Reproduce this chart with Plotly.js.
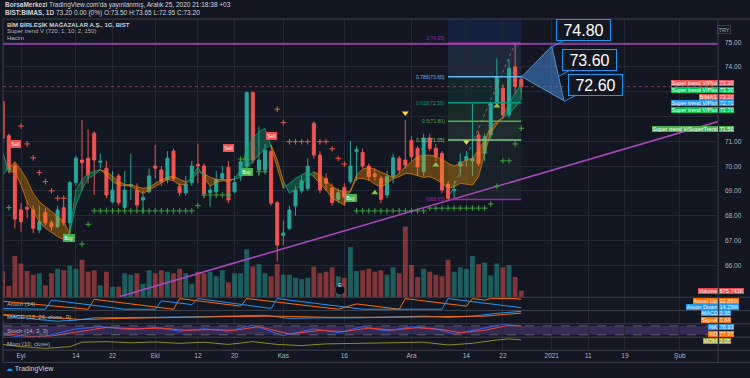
<!DOCTYPE html>
<html>
<head>
<meta charset="utf-8">
<script src="https://cdn.plot.ly/plotly-3.0.1.min.js"></script>
<style>
html,body{margin:0;padding:0;background:#131722;overflow:hidden;}
#chart{width:750px;height:378px;}
</style>
</head>
<body>
<div id="chart"></div>
<script>
// ================= DATA =================
const dates = ["2020-08-27","2020-08-28","2020-08-31",
"2020-09-01","2020-09-02","2020-09-03","2020-09-04","2020-09-07","2020-09-08","2020-09-09","2020-09-10","2020-09-11","2020-09-14","2020-09-15","2020-09-16","2020-09-17","2020-09-18","2020-09-21","2020-09-22","2020-09-23","2020-09-24","2020-09-25","2020-09-28","2020-09-29","2020-09-30",
"2020-10-01","2020-10-02","2020-10-05","2020-10-06","2020-10-07","2020-10-08","2020-10-09","2020-10-12","2020-10-13","2020-10-14","2020-10-15","2020-10-16","2020-10-19","2020-10-20","2020-10-21","2020-10-22","2020-10-23","2020-10-26","2020-10-27","2020-10-28","2020-10-30",
"2020-11-02","2020-11-03","2020-11-04","2020-11-05","2020-11-06","2020-11-09","2020-11-10","2020-11-11","2020-11-12","2020-11-13","2020-11-16","2020-11-17","2020-11-18","2020-11-19","2020-11-20","2020-11-23","2020-11-24","2020-11-25","2020-11-26","2020-11-27","2020-11-30",
"2020-12-01","2020-12-02","2020-12-03","2020-12-04","2020-12-07","2020-12-08","2020-12-09","2020-12-10","2020-12-11","2020-12-14","2020-12-15","2020-12-16","2020-12-17","2020-12-18","2020-12-21","2020-12-22","2020-12-23","2020-12-24","2020-12-25"];
const firstBar = -3; // bar number of the first date (Sep 1 = bar 0)

const openP = [72.6,71.22,70.01,68.23,68.33,68.23,67.42,68.12,67.71,67.55,68.32,67.71,69.33,70.24,70.31,71.32,70.15,69.91,68.56,69.6,68.33,69.2,69.03,68.63,68.96,70.0,69.84,69.44,70.6,69.17,68.92,69.33,70.07,70.0,68.92,68.96,69.5,69.95,68.96,69.6,69.97,72.96,69.84,69.84,70.58,68.52,67.2,67.49,68.39,69.0,69.1,71.72,70.44,69.5,69.1,68.66,69.14,69.37,70.58,70.54,70.0,69.68,69.5,68.83,69.57,70.31,70.24,71.02,70.71,69.77,71.12,70.71,70.51,69.27,69.0,70.0,70.24,70.2,71.25,70.51,71.25,72.53,73.13,72.06,74.0,73.5];
const highP = [72.8,71.3,70.1,68.5,68.6,68.4,68.4,68.3,67.8,68.4,68.6,69.4,70.4,71.85,71.48,71.4,70.5,70.2,69.8,69.7,69.8,70.5,69.3,69.0,69.9,70.85,70.0,70.6,70.7,69.3,69.6,70.2,70.9,70.1,69.2,69.8,70.0,70.2,69.6,70.3,73.0,73.0,71.6,70.9,70.8,68.6,67.8,68.4,69.2,69.6,70.3,71.8,70.6,69.7,69.3,69.1,69.3,71.0,70.8,70.7,70.1,69.9,69.6,69.8,70.5,70.4,71.85,71.2,70.8,71.3,71.3,70.9,70.6,69.4,69.4,70.5,70.6,72.5,71.4,71.3,72.6,74.34,73.3,74.3,74.95,73.65];
const lowP = [70.9,69.7,67.49,67.35,67.9,67.3,67.3,67.6,67.4,67.5,67.6,67.2,69.2,69.03,69.3,68.83,69.9,68.7,68.5,68.4,68.2,68.63,68.3,68.09,68.9,69.5,69.2,69.3,69.4,68.8,68.8,69.2,69.3,68.7,68.36,68.9,69.4,68.5,68.9,69.4,69.6,70.1,69.6,69.7,68.4,66.14,66.8,67.4,68.0,68.9,69.0,70.3,68.9,69.0,68.4,68.5,68.4,69.3,69.4,69.9,69.4,69.4,68.5,68.7,69.3,69.7,69.9,70.2,69.6,69.6,70.6,70.2,68.9,68.65,68.7,69.57,70.0,69.6,70.0,70.2,71.1,72.4,71.9,71.95,72.9,72.95];
const closeP = [71.12,69.84,67.86,67.75,68.26,67.49,67.75,67.71,67.55,68.23,67.71,69.33,70.31,70.13,69.64,70.24,70.2,68.83,69.03,68.52,69.03,69.25,68.43,68.74,69.6,69.91,69.37,70.31,69.5,68.92,69.26,70.0,70.0,68.87,69.03,69.46,69.7,68.63,69.33,70.17,72.96,70.24,70.24,70.64,68.5,66.81,67.3,68.23,69.03,69.4,69.99,70.44,69.03,69.3,68.52,68.92,68.74,70.0,70.67,70.0,69.57,69.57,68.66,69.57,70.33,69.84,70.04,70.38,69.97,71.12,70.71,70.38,69.03,68.7,69.05,70.17,70.38,70.3,70.11,71.18,72.53,73.6,72.06,73.94,73.2,73.2];
// volume in millions of shares
const volumeM = [3.5,1.5,5.5,4.5,3.5,3.0,3.2,1.6,3.2,3.8,3.6,4.2,3.8,5.0,3.4,3.6,1.6,3.4,1.4,1.4,3.2,3.0,3.2,1.8,3.6,3.2,3.6,3.4,3.2,3.8,3.2,1.8,3.4,3.2,3.4,2.8,3.6,2.0,3.2,3.2,6.4,4.1,4.4,3.2,2.8,4.4,3.0,3.0,2.6,2.4,2.6,4.1,3.2,3.4,4.0,2.8,2.6,6.7,3.5,3.6,3.8,3.4,3.6,3.0,4.0,3.2,9.4,4.3,2.7,3.8,3.4,3.0,2.8,5.0,3.4,4.0,3.8,5.5,4.4,4.6,2.9,4.5,4.0,4.3,2.7,0.876];
// Super trend V band lines (fast / slow)
const stFast = [70.58,69.76,69.77,69.23,68.56,68.16,67.75,67.49,67.31,67.15,67.04,67.35,69.03,69.44,69.7,69.77,69.87,69.6,69.37,69.23,69.22,69.19,69.03,68.9,69.03,69.17,69.33,69.46,69.41,69.23,69.27,69.54,69.95,69.54,69.19,69.33,69.41,69.37,69.5,69.84,70.71,71.12,71.38,71.52,70.78,69.91,69.1,69.3,69.5,69.64,69.77,69.57,69.3,69.03,68.7,68.56,68.43,69.03,69.5,69.5,69.44,69.27,69.14,69.3,69.49,69.57,69.7,69.68,69.6,69.54,69.57,69.46,69.3,69.1,69.17,69.3,69.27,69.23,69.57,70.51,71.32,71.69,71.99,72.53,72.93,73.30];
const stSlow = [69.64,69.92,70.17,69.84,69.44,68.9,68.56,68.36,68.16,67.98,67.75,67.29,68.43,69.03,69.5,69.64,69.84,69.77,69.6,69.37,69.26,69.23,69.17,69.1,69.14,69.3,69.44,69.54,69.6,69.46,69.37,69.44,69.77,69.7,69.54,69.46,69.46,69.44,69.46,69.54,69.91,70.17,70.44,70.71,70.85,70.24,69.4,68.9,69.03,69.23,69.57,69.77,69.64,69.44,69.17,69.03,68.96,68.96,69.64,69.87,69.95,69.87,69.77,69.64,69.54,69.7,69.97,70.17,70.38,70.44,70.44,70.38,70.27,70.11,70.0,70.11,70.24,70.31,70.65,71.05,71.58,71.79,71.95,72.1,72.37,72.70];
// SuperTrend stop crosses
const stopDownX = [0,1,2,3,4,5,6,7,42,43,44,45,46,47,49,50,51,52,53];
const stopDownY = [71.61,70.89,70.33,69.73,69.37,69.0,68.7,68.7,72.29,71.75,70.98,70.98,70.98,70.98,70.98,70.98,70.69,70.31,70.08];
const stopUpX = [-2,10,11,12,13,14,15,16,17,18,19,20,21,22,23,24,25,26,27,28,29,30,31,32,33,34,36,37,39,40,55,56,57,58,59,60,61,62,63,64,65,66,67,68,69,70,71,72,73,74,75,76,77,78,79,80,81,82];
const stopUpY = [68.32,66.85,67.65,68.19,68.19,68.19,68.19,68.19,68.19,68.19,68.19,68.19,68.19,68.19,68.19,68.19,68.19,68.19,68.19,68.19,68.4,68.83,68.83,68.83,68.83,68.83,70.28,70.28,69.77,69.77,68.19,68.19,68.19,68.19,68.19,68.19,68.19,68.19,68.19,68.19,68.19,68.19,68.3,68.3,68.3,68.3,68.3,68.3,68.3,68.3,68.3,68.3,68.47,69.19,70.21,70.21,70.89,71.52];
const triUpX = [58,68,78], triUpY = [68.92,70.04,72.42];
const triDownX = [63,73], triDownY = [72.14,70.98];
const sigX = [-0.9,7.9,34,37,41.1,54.1];
const sigY = [70.89,67.08,70.71,69.74,71.22,68.73];
const sigText = ["Sell","Buy","Sell","Buy","Sell","Buy"];
// Fibonacci retracement
const fibBars = [70, 82];
const fibNames = ["1","0.786","0.618","0.5","0.382","0"];
const fibPrices = [74.95,73.60,72.55,71.80,71.05,68.65];
// drawings
const trendX = [16.2,114.3], trendY = [64.74,71.79];
const hLinePrice = 74.92;
const lastPrice = 73.20;
const calloutX = [87,88,89], calloutY = [74.80,73.60,72.60], calloutText = ["74.80","73.60","72.60"];
const wedgeX = [82.1,87,89], wedgeY = [73.6,74.84,72.63];
const earningsBar = 52.3;
// indicators (vertices)
const aroonUpX = [-3,11,12,25,26,36,37,52,55,62,63,73,74,76,77,81,82];
const aroonUpV = [75,0,93,0,100,29,100,0,50,0,100,29,100,86,100,100,92.86];
const aroonDnX = [-3,4,5,17,22,23,28,29,41,42,56,69,70,82];
const aroonDnV = [7,0,86,0,0,79,43,100,7,100,0,0,100,14.29];
const macdX = [-3,2,6,9,12,16,22,30,37,40,44,48,55,62,66,70,74,78,82];
const macdV = [0.3,-0.4,-0.8,-0.6,-0.2,-0.2,-0.1,0.0,0.2,0.25,-0.3,-0.2,-0.2,0.0,0.1,-0.1,0.1,0.6,0.95];
const signalX = [-3,5,10,16,25,35,42,50,60,70,76,82];
const signalV = [0.4,-0.2,-0.5,-0.3,-0.1,0.05,0.1,-0.1,-0.1,0.0,0.1,0.64];
const stochKX = [-3,0,4,9,13,18,22,26,30,34,38,43,48,52,56,60,64,68,71,75,79,82];
const stochKV = [20,5,10,60,75,55,70,45,60,45,85,15,60,35,75,45,75,60,25,55,90,78.93];
const stochDX = [-3,1,5,10,14,19,23,27,31,35,39,44,49,53,57,61,65,69,72,76,80,82];
const stochDV = [30,10,12,45,70,60,65,50,55,50,75,25,50,42,65,52,68,55,35,50,85,77.97];
const momX = [-3,0,4,8,10,14,18,22,26,30,34,38,42,46,50,54,58,62,66,70,74,78,80,82];
const momV = [-1,-3,-4.5,-3,1,1.5,0.5,1.2,0,1,-1,1.5,-1,-2,-0.5,0,0.5,1,1,-1.5,0,3,4,3.05];
// axis ticks
const tickPos = [0,9,15,22,29,35,43,53,64,73,79,87,93,99,108];
const tickText = ["Eyl","14","22","Eki","12","20","Kas","16","Ara","14","22","2021","11","19","Şub"];
const priceTicks = [66,67,68,69,70,71,72,73,74,75];
const priceTickShown = [true,true,true,true,true,true,false,false,true,true];

// ================= LAYOUT HELPERS =================
const L=3, R=718, T=19, B=350;
const px = x => (x-L)/(R-L);
const py = y => (B-y)/(B-T);
const FONT = "Liberation Sans, Arial, sans-serif";
const bars = dates.map((d,k)=>k+firstBar);
const UP='#26a69a', DN='#ef5350';

const traces = [];

// volume (base axis y)
traces.push({type:'bar', x:bars, y:volumeM, xaxis:'x', yaxis:'y', width:0.8,
  marker:{color:closeP.map((c,k)=> c>=openP[k] ? 'rgba(38,166,154,0.5)' : 'rgba(239,83,80,0.5)')},
  hoverinfo:'skip'});

// supertrend band polygons
(function(){
  let cur=null; const segs=[];
  for(let k=0;k<bars.length-1;k++){
    const up = (stFast[k]+stFast[k+1]) >= (stSlow[k]+stSlow[k+1]);
    if(!cur || cur.up!==up){cur={up:up,ks:[k]}; segs.push(cur);}
    cur.ks.push(k+1);
  }
  segs.forEach(s=>{
    const xx = s.ks.map(k=>bars[k]).concat(s.ks.slice().reverse().map(k=>bars[k]));
    const yy = s.ks.map(k=>stFast[k]).concat(s.ks.slice().reverse().map(k=>stSlow[k]));
    traces.push({type:'scatter', mode:'lines', x:xx, y:yy, xaxis:'x', yaxis:'y2', fill:'toself',
      fillcolor: s.up ? 'rgba(20,160,110,0.38)' : 'rgba(255,152,0,0.33)',
      line:{color: s.up ? '#1f9d74' : '#d9780f', width:0.8}, hoverinfo:'skip'});
  });
})();

// candles
traces.push({type:'candlestick', x:bars, open:openP, high:highP, low:lowP, close:closeP,
  xaxis:'x', yaxis:'y2', whiskerwidth:0,
  increasing:{line:{color:UP,width:1}, fillcolor:UP},
  decreasing:{line:{color:DN,width:1}, fillcolor:DN}, hoverinfo:'skip'});

// trend line
traces.push({type:'scatter', mode:'lines', x:trendX, y:trendY, xaxis:'x', yaxis:'y2',
  line:{color:'#ab47bc', width:1.6}, hoverinfo:'skip'});

// stops
traces.push({type:'scatter', mode:'markers', x:stopDownX, y:stopDownY, xaxis:'x', yaxis:'y2',
  marker:{symbol:'cross-thin', size:4, line:{width:1, color:'#ef5350'}}, hoverinfo:'skip'});
traces.push({type:'scatter', mode:'markers', x:stopUpX, y:stopUpY, xaxis:'x', yaxis:'y2',
  marker:{symbol:'cross-thin', size:4, line:{width:1, color:'#43a047'}}, hoverinfo:'skip'});
traces.push({type:'scatter', mode:'markers', x:triUpX, y:triUpY, xaxis:'x', yaxis:'y2',
  marker:{symbol:'triangle-up', size:6, color:'#8bc34a'}, hoverinfo:'skip'});
traces.push({type:'scatter', mode:'markers', x:triDownX, y:triDownY, xaxis:'x', yaxis:'y2',
  marker:{symbol:'triangle-down', size:6, color:'#fdd835'}, hoverinfo:'skip'});

// indicators
const ind = (x,y,ax,color)=>({type:'scatter', mode:'lines', x:x, y:y, xaxis:'x', yaxis:ax,
  line:{color:color, width:1}, hoverinfo:'skip', cliponaxis:true});
traces.push(ind(aroonUpX, aroonUpV, 'y3', '#ff6d00'));
traces.push(ind(aroonDnX, aroonDnV, 'y3', '#2196f3'));
traces.push(ind(macdX, macdV, 'y4', '#2196f3'));
traces.push(ind(signalX, signalV, 'y4', '#ff6d00'));
traces.push(ind(stochKX, stochKV, 'y5', '#2962ff'));
traces.push(ind(stochDX, stochDV, 'y5', '#f44336'));
traces.push(ind(momX, momV, 'y6', '#8d8b23'));

// ================= SHAPES =================
const shapes = [];
const SEP = '#3c404b';
// fib zones
const zoneTop = [76.5].concat(fibPrices.slice(0,-1));
const zoneFill = ['rgba(41,98,255,0.13)','rgba(100,181,246,0.12)','rgba(8,153,129,0.13)','rgba(76,175,80,0.13)','rgba(129,199,132,0.12)','rgba(129,199,132,0.06)'];
const zoneBot = fibPrices.slice();
zoneTop.forEach((t,k)=>{
  shapes.push({type:'rect', xref:'x', yref:'y2', x0:fibBars[0], x1:fibBars[1], y0:zoneBot[k], y1:t,
    fillcolor:zoneFill[k], line:{width:0}, layer:'below'});
});
const fibColors = ['#9c27b0','#64b5f6','#089981','#4caf50','#81c784','#9c27b0'];
fibPrices.forEach((p,k)=>{
  shapes.push({type:'line', xref:'x', yref:'y2', x0:fibBars[0], x1:fibBars[1], y0:p, y1:p,
    line:{color:fibColors[k], width:1.5}});
});
shapes.push({type:'line', xref:'x', yref:'y2', x0:fibBars[0], x1:fibBars[1]-1, y0:fibPrices[5], y1:fibPrices[0],
  line:{color:'rgba(160,160,170,0.6)', width:1, dash:'dot'}});
// horizontal purple line & last price line
shapes.push({type:'line', xref:'paper', yref:'y2', x0:0, x1:1, y0:hLinePrice, y1:hLinePrice,
  line:{color:'#ab47bc', width:1.6}});
shapes.push({type:'line', xref:'paper', yref:'y2', x0:0, x1:1, y0:lastPrice, y1:lastPrice,
  line:{color:'rgba(239,83,80,0.55)', width:1, dash:'dot'}});
// callout wedge
shapes.push({type:'path', xref:'x', yref:'y2',
  path:'M '+wedgeX[0]+','+wedgeY[0]+' L '+wedgeX[1]+','+wedgeY[1]+' L '+wedgeX[2]+','+wedgeY[2]+' Z',
  fillcolor:'rgba(66,133,214,0.55)', line:{color:'rgba(100,160,230,0.8)', width:1}});
// stoch band
shapes.push({type:'rect', xref:'paper', yref:'y5', x0:0, x1:1, y0:20, y1:80,
  fillcolor:'rgba(126,87,194,0.32)', line:{width:0}, layer:'below'});
[20,80].forEach(v=>shapes.push({type:'line', xref:'paper', yref:'y5', x0:0, x1:1, y0:v, y1:v,
  line:{color:'#6b6e7a', width:0.8, dash:'dash'}}));
// pane separators / borders
[297.3,310.5,323.8,337.2,350.2,362.4].forEach(y=>shapes.push({type:'line', xref:'paper', yref:'paper',
  x0:0, x1:px(750), y0:py(y), y1:py(y), line:{color:SEP, width:1}}));
shapes.push({type:'line', xref:'paper', yref:'paper', x0:1, x1:1, y0:py(362.4), y1:py(19), line:{color:SEP, width:1}});
shapes.push({type:'line', xref:'paper', yref:'paper', x0:0, x1:0, y0:py(362.4), y1:py(19), line:{color:SEP, width:1}});
shapes.push({type:'line', xref:'paper', yref:'paper', x0:0, x1:px(750), y0:py(19), y1:py(19), line:{color:SEP, width:1}});
// earnings marker
shapes.push({type:'circle', xref:'x', yref:'paper', xsizemode:'pixel', ysizemode:'pixel',
  xanchor:earningsBar, yanchor:py(290), x0:-5, x1:5, y0:-5, y1:5,
  fillcolor:'#0b0d12', line:{color:'#50535e', width:1}});

// ================= ANNOTATIONS =================
const ann = [];
const txt = (x,y,text,size,color,anchor)=>ann.push({xref:'paper', yref:'paper', x:px(x), y:py(y), text:text,
  showarrow:false, xanchor:anchor||'left', yanchor:'middle', font:{family:FONT, size:size, color:color}});
txt(3,5.5,"<b>BorsaMerkezi</b> TradingView.com'da yayınlanmış, Aralık 25, 2020 21:18:38 +03",6.5,'#d1d4dc');
txt(3,13.5,"<b>BIST:BIMAS, 1D</b> 73.20 0.00 (0%) O:73.50 H:73.65 L:72.95 C:73.20",6.5,'#d1d4dc');
txt(5,25,"<b>BİM BİRLEŞİK MAĞAZALAR A.Ş., 1G, BIST</b>",6,'#d1d4dc');
txt(5,31.5,"Super trend V (720, 1, 10, 2, 150)",6,'#b2b5be');
txt(5,38,"Hacim",6,'#b2b5be');
txt(5,304,"Aroon (14)",6,'#b2b5be');
txt(5,317,"MACD (12, 26, close, 9)",6,'#b2b5be');
txt(5,330.5,"Stoch (14, 3, 3)",6,'#b2b5be');
txt(5,344,"Mom (10, close)",6,'#b2b5be');
txt(4,369.5,"<span style='color:#2196f3'>☁</span> TradingView",7,'#d1d4dc');
ann.push({xref:'paper', yref:'paper', x:px(731), y:py(24.5), text:'TRY', showarrow:false,
  font:{family:FONT,size:5.5,color:'#b2b5be'}, bordercolor:'#50535e', borderwidth:0.6, borderpad:1});
// price axis labels (drawn as text so hidden ones stay hidden, as in the reference)
priceTicks.forEach((v,k)=>{
  if(priceTickShown[k]) ann.push({xref:'paper', yref:'y2', x:px(723), y:v, text:v.toFixed(2), showarrow:false,
    xanchor:'left', yanchor:'middle', font:{family:FONT,size:6.5,color:'#b2b5be'}});
});

// fib labels
fibPrices.forEach((p,k)=>{
  ann.push({xref:'x', yref:'y2', x:fibBars[0]-0.2, y:p, text:fibNames[k]+'('+p.toFixed(2)+')',
    showarrow:false, xanchor:'right', yanchor:(k===0?'bottom':'middle'),
    font:{family:FONT,size:5,color:fibColors[k]}});
});
// buy/sell labels
sigText.forEach((t,k)=>{
  ann.push({xref:'x', yref:'y2', x:sigX[k], y:sigY[k], text:t, showarrow:false,
    font:{family:FONT,size:5,color:'#ffffff'}, bgcolor:(t==='Sell'?'#f0504f':'#4caf50'), borderpad:1.2, borderwidth:0});
});
// callouts
calloutText.forEach((t,k)=>{
  ann.push({xref:'x', yref:'y2', x:calloutX[k], y:calloutY[k], text:t, showarrow:true, arrowhead:0,
    arrowwidth:1, arrowcolor:'#2196f3', ax:32, ay:-17, width:51, height:18, borderpad:1,
    bordercolor:'#2196f3', borderwidth:1, bgcolor:'#131722',
    font:{family:FONT,size:16,color:'#ffffff'}});
});
// earnings E
ann.push({xref:'x', yref:'paper', x:earningsBar, y:py(290), text:'E', showarrow:false,
  font:{family:FONT,size:6,color:'#d1d4dc'}});

// right side tags
function tag(yPx, name, value, color){
  ann.push({xref:'paper', yref:'paper', x:px(718), y:py(yPx), text:name, showarrow:false, xanchor:'right', yanchor:'middle',
    bgcolor:color, font:{family:FONT,size:5.6,color:'#ffffff'}, borderpad:0.5, borderwidth:0, height:5.4});
  ann.push({xref:'paper', yref:'paper', x:px(718.8), y:py(yPx), text:value, showarrow:false, xanchor:'left', yanchor:'middle',
    bgcolor:color, font:{family:FONT,size:5.6,color:'#ffffff'}, borderpad:0.5, borderwidth:0, height:5.4});
}
tag(83.3,'Super trend V/Plot','73.30','#f0504f');
tag(90,'Super trend V/Plot','73.30','#00c45a');
tag(96.7,'BIMAS','73.20','#f0504f');
tag(103.3,'Super trend V/Plot','72.70','#2196f3');
tag(110,'Super trend V/Plot','72.70','#00c45a');
tag(129,'Super trend V/SuperTrend','71.50','#4caf50');
tag(291,'Volume','875.743K','#e5484d');
tag(300.5,'Aroon Up','92.86%','#ff6d00');
tag(306.9,'Aroon Down','14.29%','#2196f3');
tag(313.3,'MACD','0.95','#2196f3');
tag(320,'Signal','0.64','#ff6d00');
tag(327,'%K','78.93','#2196f3');
tag(333.6,'%D','77.97','#ff6d00');
tag(341,'MOM','3.05','#9e9d24');

// ================= LAYOUT =================
const GRID = '#242834';
const layout = {
  width:750, height:378,
  paper_bgcolor:'#131722', plot_bgcolor:'#131722',
  margin:{l:L, r:750-R, t:T, b:378-B, pad:0},
  showlegend:false,
  font:{family:FONT, color:'#b2b5be'},
  xaxis:{range:[-2.95,114.25], tickmode:'array', tickvals:tickPos, ticktext:tickText,
    showgrid:true, gridcolor:GRID, gridwidth:1, zeroline:false, showline:false, ticks:'',
    tickfont:{family:FONT,size:6.5,color:'#b2b5be'}, anchor:'y6', rangeslider:{visible:false}, fixedrange:true},
  yaxis:{domain:[py(297.3),1], range:[0,37], showgrid:false, zeroline:false, showticklabels:false, fixedrange:true},
  yaxis2:{overlaying:'y', side:'right', range:[75-(297.3-42)/24.8, 75+(42-19)/24.8],
    tickmode:'array', tickvals:priceTicks, showticklabels:false,
    showgrid:true, gridcolor:GRID, zeroline:false, ticks:'', fixedrange:true},
  yaxis3:{domain:[py(310.5),py(297.3)], range:[-12,112], showgrid:false, zeroline:false, showticklabels:false, fixedrange:true},
  yaxis4:{domain:[py(323.8),py(310.5)], range:[-1.25,1.1], showgrid:false, zeroline:false, showticklabels:false, fixedrange:true},
  yaxis5:{domain:[py(337.2),py(323.8)], range:[4,94], showgrid:false, zeroline:false, showticklabels:false, fixedrange:true},
  yaxis6:{domain:[0,py(337.2)], range:[-6,5.5], showgrid:false, zeroline:false, showticklabels:false, fixedrange:true},
  shapes:shapes,
  annotations:ann
};

Plotly.newPlot('chart', traces, layout, {displayModeBar:false, staticPlot:true});
</script>
</body>
</html>
